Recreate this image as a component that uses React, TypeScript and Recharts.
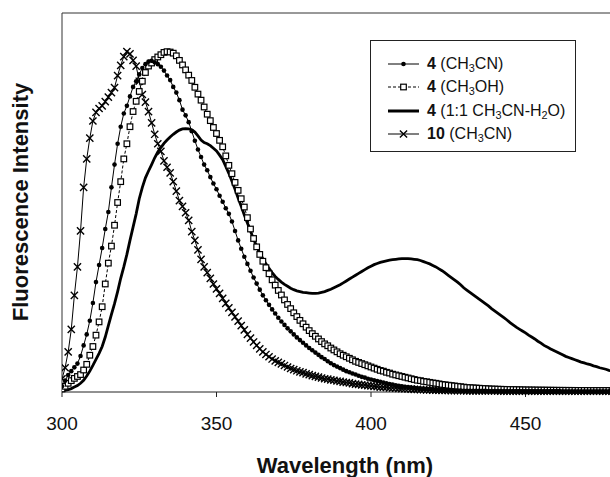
import React from 'react';
import { LineChart, Line, XAxis, YAxis, ReferenceLine } from 'recharts';

const FONT = '"Liberation Sans", Arial, Helvetica, sans-serif';

// one reading per nm, starting at 300 nm
const START_NM = 300;

// 4 in CH3CN (filled circles)
const acetonitrile = [
  1.5, 3, 4.5, 5.5, 6.5, 7.5, 9.5, 12.3, 15.2, 18.8, // 300
  23.5, 29, 33.5, 38, 43, 47.5, 54, 60, 65.5, 70, // 310
  73.5, 75.5, 78, 80.5, 82, 83.8, 85.5, 86.5, 87.2, 87.4, // 320
  87, 86.5, 85.8, 84.8, 83.5, 82.3, 80.5, 79, 77, 74.5, // 330
  73, 71.2, 68.8, 66.3, 64, 62, 60, 58.5, 56.7, 55, // 340
  53.5, 51.8, 50.2, 48.5, 47, 45, 42.5, 40, 37.8, 35.7, // 350
  33.8, 32, 30.2, 28.6, 27, 25.5, 24.2, 23, 21.8, 20.7, // 360
  19.6, 18.6, 17.7, 16.8, 16, 15.2, 14.4, 13.7, 13, 12.3, // 370
  11.6, 11, 10.4, 9.8, 9.2, 8.7, 8.1, 7.6, 7.1, 6.7, // 380
  6.3, 5.9, 5.5, 5.2, 4.9, 4.6, 4.3, 4, 3.8, 3.5, // 390
  3.3, 3.1, 2.9, 2.7, 2.5, 2.3, 2.1, 1.95, 1.8, 1.65, // 400
  1.5, 1.4, 1.3, 1.2, 1.1, 1, 0.92, 0.85, 0.78, 0.72, // 410
  0.66, 0.6, 0.56, 0.52, 0.48, 0.45, 0.42, 0.4, 0.38, 0.36, // 420
  0.34, 0.33, 0.32, 0.31, 0.3, 0.3, 0.29, 0.29, 0.28, 0.28, // 430
  0.27, 0.27, 0.26, 0.26, 0.26, 0.25, 0.25, 0.25, 0.25, 0.24, // 440
  0.24, 0.24, 0.24, 0.23, 0.23, 0.23, 0.23, 0.22, 0.22, 0.22, // 450
  0.22, 0.22, 0.21, 0.21, 0.21, 0.21, 0.21, 0.2, 0.2, 0.2, // 460
  0.2, 0.2, 0.2, 0.2, 0.2, 0.2, 0.2, 0.2, 0.2, 0.2, // 470
  0.2, // 480
];

// 4 in CH3OH (open squares)
const methanol = [
  0.8, 1.5, 2.3, 3, 3.6, 4.1, 4.6, 5.8, 7.3, 9.7, // 300
  12, 15, 18.5, 22.5, 28.5, 34, 38.5, 44, 50, 55.5, // 310
  61.5, 65.5, 70, 74, 76.7, 79.3, 82, 84.3, 86, 86.8, // 320
  87.7, 88.4, 89, 89.6, 89.8, 89.7, 89.4, 88.7, 87.5, 86.3, // 330
  85, 83.6, 82.2, 80.4, 78.6, 77, 75.2, 73.3, 71.6, 69.8, // 340
  68.2, 66.4, 64.7, 62.3, 59.8, 57.6, 55.3, 53.2, 51, 48.8, // 350
  46, 43, 40.5, 38.3, 36.3, 34.5, 32.8, 31.2, 29.6, 28.2, // 360
  26.8, 25.6, 24.3, 23.1, 22, 20.9, 19.9, 18.9, 18, 17.1, // 370
  16.2, 15.4, 14.7, 14, 13.3, 12.7, 12.2, 11.6, 11.1, 10.6, // 380
  10.1, 9.7, 9.3, 8.9, 8.5, 8.1, 7.8, 7.5, 7.2, 6.9, // 390
  6.6, 6.3, 6, 5.7, 5.5, 5.2, 5, 4.7, 4.5, 4.3, // 400
  4.1, 3.9, 3.7, 3.5, 3.3, 3.1, 3, 2.8, 2.7, 2.55, // 410
  2.4, 2.3, 2.15, 2, 1.9, 1.8, 1.7, 1.6, 1.5, 1.4, // 420
  1.3, 1.2, 1.15, 1.1, 1.05, 1, 0.95, 0.9, 0.85, 0.8, // 430
  0.78, 0.75, 0.72, 0.7, 0.68, 0.66, 0.64, 0.62, 0.6, 0.58, // 440
  0.56, 0.55, 0.54, 0.53, 0.52, 0.51, 0.5, 0.49, 0.48, 0.47, // 450
  0.46, 0.45, 0.45, 0.44, 0.44, 0.43, 0.43, 0.42, 0.42, 0.41, // 460
  0.41, 0.4, 0.4, 0.4, 0.4, 0.4, 0.4, 0.4, 0.4, 0.4, // 470
  0.4, // 480
];

// 4 in 1:1 CH3CN-H2O (thick line)
const mixed = [
  0.3, 0.4, 0.6, 0.9, 1.3, 1.7, 2.3, 3.1, 4.2, 5.5, // 300
  7, 8.6, 10.2, 12, 14.5, 17.5, 20.5, 23.3, 26.5, 30, // 310
  33, 36.3, 40, 43.5, 47, 51, 54, 56.5, 58.3, 60, // 320
  61.8, 63.3, 64.5, 65.6, 66.5, 67.3, 68, 68.6, 69.1, 69.4, // 330
  69.5, 69.4, 69.2, 68.6, 67.6, 66.5, 65.8, 65.5, 65, 64.3, // 340
  63.6, 62.5, 61.3, 59.5, 57.7, 55.6, 53.5, 51.2, 49, 46.7, // 350
  44.6, 42.5, 40.3, 38.5, 36.6, 35.2, 33.8, 32.6, 31.5, 30.5, // 360
  29.7, 29, 28.4, 27.9, 27.4, 27, 26.7, 26.5, 26.3, 26.2, // 370
  26.1, 26, 26, 26.1, 26.3, 26.5, 26.8, 27.1, 27.5, 27.9, // 380
  28.3, 28.8, 29.3, 29.8, 30.3, 30.8, 31.3, 31.8, 32.3, 32.8, // 390
  33.2, 33.6, 33.9, 34.2, 34.4, 34.6, 34.8, 34.9, 35, 35.1, // 400
  35.2, 35.2, 35.2, 35.1, 35, 34.9, 34.7, 34.4, 34.1, 33.8, // 410
  33.4, 33, 32.5, 32, 31.4, 30.8, 30.2, 29.6, 29, 28.3, // 420
  27.5, 26.9, 26.3, 25.7, 25.1, 24.5, 23.9, 23.3, 22.7, 22, // 430
  21.4, 20.8, 20.2, 19.6, 19, 18.3, 17.7, 17.1, 16.6, 16.1, // 440
  15.6, 15, 14.5, 14, 13.4, 12.9, 12.3, 11.9, 11.4, 11, // 450
  10.6, 10.2, 9.8, 9.4, 9.1, 8.8, 8.5, 8.2, 7.9, 7.7, // 460
  7.4, 7.2, 6.9, 6.7, 6.4, 6.2, 6, 5.7, 5.5, 5.3, // 470
  5.1, // 480
];

// 10 in CH3CN (crosses)
const compound10 = [
  3.5, 6.4, 10.6, 16.5, 25.5, 33, 42.5, 54, 61.5, 67, // 300
  71.5, 73.8, 74.8, 75.5, 76.6, 77.8, 79, 80.3, 83.5, 86.2, // 310
  88.5, 89.8, 89.2, 87.5, 86, 82, 78.5, 76.5, 74, 71, // 320
  68, 65.5, 63.5, 61, 59.3, 57.8, 55.5, 53, 50.5, 49, // 330
  47.3, 45.3, 42.3, 40, 37.5, 35, 33, 31.5, 30, 28.5, // 340
  27.2, 26, 24.7, 23.4, 22.2, 21, 19.8, 18.7, 17.5, 16.4, // 350
  15.2, 14.2, 13.2, 12.3, 11.4, 10.6, 9.9, 9.3, 8.7, 8.2, // 360
  7.8, 7.4, 7, 6.6, 6.2, 5.9, 5.6, 5.3, 5.1, 4.8, // 370
  4.6, 4.3, 4.1, 3.9, 3.7, 3.5, 3.4, 3.2, 3.1, 2.9, // 380
  2.8, 2.6, 2.5, 2.4, 2.2, 2.1, 2, 1.9, 1.8, 1.7, // 390
  1.6, 1.5, 1.4, 1.3, 1.25, 1.2, 1.1, 1.05, 1, 0.95, // 400
  0.9, 0.85, 0.8, 0.75, 0.7, 0.67, 0.63, 0.6, 0.57, 0.54, // 410
  0.5, 0.48, 0.46, 0.44, 0.42, 0.4, 0.38, 0.36, 0.35, 0.34, // 420
  0.33, 0.32, 0.31, 0.3, 0.3, 0.29, 0.28, 0.28, 0.27, 0.27, // 430
  0.26, 0.26, 0.25, 0.25, 0.25, 0.24, 0.24, 0.24, 0.23, 0.23, // 440
  0.23, 0.23, 0.22, 0.22, 0.22, 0.22, 0.21, 0.21, 0.21, 0.21, // 450
  0.2, 0.2, 0.2, 0.2, 0.2, 0.2, 0.2, 0.2, 0.2, 0.2, // 460
  0.2, 0.2, 0.2, 0.2, 0.2, 0.2, 0.2, 0.2, 0.2, 0.2, // 470
  0.2, // 480
];

const xTicks = [300, 350, 400, 450];

const data = acetonitrile.map((v, i) => ({
  wl: START_NM + i,
  acn: v,
  meoh: methanol[i],
  mix: mixed[i],
  c10: compound10[i],
}));

const DotMark = (p: any) => (
  <circle key={`d${p.index}`} cx={p.cx} cy={p.cy} r={2.3} fill="#000" />
);
const SquareMark = (p: any) => (
  <rect key={`s${p.index}`} x={p.cx - 2.8} y={p.cy - 2.8} width={5.6} height={5.6}
    fill="#fff" stroke="#000" strokeWidth={1.2} />
);
const CrossMark = (p: any) => {
  const s = 3.6;
  return (
    <path key={`x${p.index}`}
      d={`M${p.cx - s},${p.cy - s}L${p.cx + s},${p.cy + s}M${p.cx + s},${p.cy - s}L${p.cx - s},${p.cy + s}`}
      stroke="#000" strokeWidth={1.4} fill="none" />
  );
};

const XTitle = () => (
  <text x={345} y={473} textAnchor="middle" fontFamily={FONT} fontSize={22}
    fontWeight="bold" fill="#111">Wavelength (nm)</text>
);
const YTitle = () => (
  <text x={20} y={202} transform="rotate(-90 20 202)" textAnchor="middle"
    dominantBaseline="central" fontFamily={FONT} fontSize={22} fontWeight="bold"
    fill="#111">Fluorescence Intensity</text>
);

const Sub = ({ children }: { children: React.ReactNode }) => (
  <span style={{ fontSize: '0.68em', verticalAlign: '-0.3em', lineHeight: 0 }}>{children}</span>
);

const legendItems = [
  { key: 'acn', label: <><b>4</b> (CH<Sub>3</Sub>CN)</> },
  { key: 'meoh', label: <><b>4</b> (CH<Sub>3</Sub>OH)</> },
  { key: 'mix', label: <><b>4</b> (1:1 CH<Sub>3</Sub>CN-H<Sub>2</Sub>O)</> },
  { key: 'c10', label: <><b>10</b> (CH<Sub>3</Sub>CN)</> },
];

const LegendSample = ({ kind }: { kind: string }) => (
  <svg width={56} height={22} style={{ display: 'block' }}>
    {kind === 'mix' ? (
      <line x1={17} x2={48} y1={11} y2={11} stroke="#000" strokeWidth={3} />
    ) : (
      <line x1={17} x2={48} y1={11} y2={11} stroke="#000" strokeWidth={1}
        strokeDasharray={kind === 'meoh' ? '3 2' : undefined} />
    )}
    {kind === 'acn' && <DotMark cx={32.5} cy={11} index={0} />}
    {kind === 'meoh' && <SquareMark cx={32.5} cy={11} index={0} />}
    {kind === 'c10' && <CrossMark cx={32.5} cy={11} index={0} />}
  </svg>
);

export default function App() {
  return (
    <div style={{ position: 'absolute', left: 0, top: 0, width: 610, height: 477, overflow: 'hidden', background: '#fff' }}>
      <LineChart width={690} height={477} data={data}
        margin={{ top: 13, right: 10, bottom: 0, left: 0 }}>
        <XAxis dataKey="wl" type="number" domain={[300, 500]} ticks={xTicks}
          allowDataOverflow height={85} stroke="#222" tickSize={5} tickMargin={20}
          tick={{ fontSize: 19, fontFamily: FONT, fill: '#111' }} label={<XTitle />} />
        <YAxis type="number" domain={[0, 100]} width={62} tick={false} tickLine={false}
          stroke="#333" label={<YTitle />} />
        <ReferenceLine y={100} stroke="#333" />
        <Line dataKey="mix" stroke="#000" strokeWidth={2.8} dot={false} isAnimationActive={false} />
        <Line dataKey="c10" stroke="#000" strokeWidth={1} dot={CrossMark} isAnimationActive={false} />
        <Line dataKey="meoh" stroke="#000" strokeWidth={1} strokeDasharray="3 2" dot={SquareMark} isAnimationActive={false} />
        <Line dataKey="acn" stroke="#000" strokeWidth={1} dot={DotMark} isAnimationActive={false} />
      </LineChart>
      <div style={{
        position: 'absolute', left: 370, top: 40, width: 204, height: 110,
        border: '1.5px solid #222', background: '#fff', fontFamily: FONT, fontSize: 16, color: '#111',
      }}>
        {legendItems.map((it, i) => (
          <div key={it.key} style={{
            position: 'absolute', left: 0, top: 12 + i * 23.3, height: 22,
            display: 'flex', alignItems: 'center', whiteSpace: 'nowrap',
          }}>
            <LegendSample kind={it.key} />
            <span>{it.label}</span>
          </div>
        ))}
      </div>
    </div>
  );
}
